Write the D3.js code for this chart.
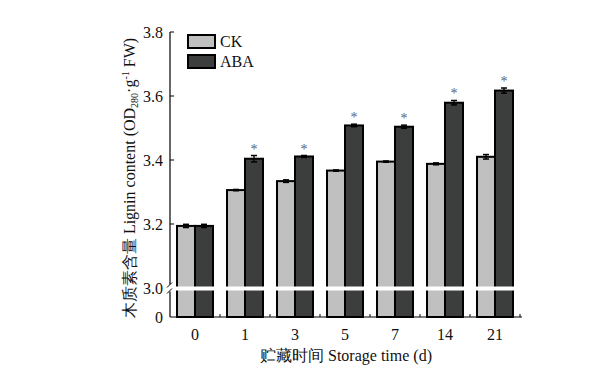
<!DOCTYPE html>
<html><head><meta charset="utf-8">
<script src="https://cdn.jsdelivr.net/npm/d3@7"></script>
<style>body{margin:0;background:#fff}svg{display:block}text{font-family:"Liberation Serif","Times New Roman",serif}</style>
</head><body>
<svg id="c" width="599" height="368"></svg>
<script>
const categories = ["0","1","3","5","7","14","21"];
const ckValues  = [3.194, 3.306, 3.334, 3.367, 3.395, 3.388, 3.410];
const ckErrors  = [0.005, 0.002, 0.004, 0.002, 0.002, 0.003, 0.007];
const abaValues = [3.194, 3.404, 3.411, 3.508, 3.504, 3.579, 3.617];
const abaErrors = [0.005, 0.010, 0.003, 0.004, 0.005, 0.007, 0.008];
const significant = [false, true, true, true, true, true, true];
const yTicks = [0, 3.0, 3.2, 3.4, 3.6, 3.8];
const yTickLabels = ["0", "3.0", "3.2", "3.4", "3.6", "3.8"];
const seriesNames = ["CK", "ABA"];
const colors = ["#c0c0c0", "#3c3e3d"];

const svg = d3.select("#c");
const x0 = 170, x1 = 520;
const x = d3.scaleBand().domain(categories).range([x0, x1]).paddingInner(0.28).paddingOuter(0.14);
const xs = d3.scaleBand().domain(seriesNames).range([0, x.bandwidth()]);
const y = d3.scaleLinear().domain([0, 3.0, 3.8]).range([317, 288, 32]);

const data = categories.map((c, i) => ({c, vals: [
  {s: "CK", v: ckValues[i], e: ckErrors[i]},
  {s: "ABA", v: abaValues[i], e: abaErrors[i]}]}));

const g = svg.append("g");
const groups = g.selectAll("g.grp").data(data).join("g").attr("transform", d => `translate(${x(d.c)},0)`);
groups.selectAll("rect").data(d => d.vals).join("rect")
  .attr("x", d => xs(d.s)).attr("width", xs.bandwidth())
  .attr("y", d => y(d.v)).attr("height", d => y(0) - y(d.v))
  .attr("fill", (d, i) => colors[i]).attr("stroke", "#000").attr("stroke-width", 2);

// error bars
const eb = groups.selectAll("g.eb").data(d => d.vals).join("g").attr("class", "eb")
  .attr("transform", d => `translate(${xs(d.s) + xs.bandwidth()/2},0)`);
eb.append("line").attr("y1", d => y(d.v + d.e)).attr("y2", d => y(d.v - d.e)).attr("stroke", "#000").attr("stroke-width", 1.3);
eb.append("line").attr("x1", -3).attr("x2", 3).attr("y1", d => y(d.v + d.e)).attr("y2", d => y(d.v + d.e)).attr("stroke", "#000").attr("stroke-width", 1.5);
eb.append("line").attr("x1", -3).attr("x2", 3).attr("y1", d => y(d.v - d.e)).attr("y2", d => y(d.v - d.e)).attr("stroke", "#000").attr("stroke-width", 1.5);

// asterisks
g.selectAll("text.star").data(data.filter((d, i) => significant[i])).join("text")
  .attr("x", d => x(d.c) + xs("ABA") + xs.bandwidth()/2)
  .attr("y", d => y(d.vals[1].v + d.vals[1].e) - 2)
  .attr("text-anchor", "middle").attr("font-size", 14).attr("fill", "#5c6375").text("*");

// break band
const yb = 288.5;
svg.append("rect").attr("x", x0 - 1).attr("y", yb - 2).attr("width", x1 - x0 + 3).attr("height", 4).attr("fill", "#fff");

// axes
const axisG = svg.append("g");
axisG.append("line").attr("x1", x0).attr("x2", x0).attr("y1", y(3.8)).attr("y2", yb - 4).attr("stroke", "#000").attr("stroke-width", 1.2);
axisG.append("line").attr("x1", x0).attr("x2", x0).attr("y1", yb + 3).attr("y2", y(0)).attr("stroke", "#000").attr("stroke-width", 1.2);
axisG.append("line").attr("x1", x0 - 3).attr("x2", x0 + 2).attr("y1", yb - 1).attr("y2", yb - 6).attr("stroke", "#000").attr("stroke-width", 1);
axisG.append("line").attr("x1", x0 - 3).attr("x2", x0 + 2).attr("y1", yb + 5).attr("y2", yb).attr("stroke", "#000").attr("stroke-width", 1);
axisG.append("line").attr("x1", x0).attr("x2", x1 + 2).attr("y1", y(0)).attr("y2", y(0)).attr("stroke", "#000").attr("stroke-width", 1.2);

yTicks.forEach((t, i) => {
  if (t !== 0 && t !== 3.0) axisG.append("line").attr("x1", x0).attr("x2", x0 + 4).attr("y1", y(t)).attr("y2", y(t)).attr("stroke", "#000");
  axisG.append("text").attr("x", x0 - 7).attr("y", y(t)).attr("dy", "0.35em").attr("text-anchor", "end").attr("font-size", 16).attr("fill", "#111").text(yTickLabels[i]);
});
// x ticks at band boundaries
categories.forEach((c, i) => {
  const bx = x0 + x.step() * (i + 1);
  axisG.append("line").attr("x1", bx).attr("x2", bx).attr("y1", y(0)).attr("y2", y(0) - 3).attr("stroke", "#000");
  axisG.append("text").attr("x", x(c) + x.bandwidth()/2).attr("y", 340).attr("text-anchor", "middle").attr("font-size", 16).attr("fill", "#111").text(c);
});

// axis titles
svg.append("text").attr("x", 346).attr("y", 361).attr("text-anchor", "middle").attr("font-size", 16).attr("fill", "#111")
  .text("贮藏时间 Storage time (d)");
const yt = svg.append("text").attr("transform", "translate(135,178) rotate(-90)").attr("text-anchor", "middle").attr("font-size", 16).attr("fill", "#111");
yt.append("tspan").text("木质素含量 Lignin content (OD");
yt.append("tspan").attr("font-size", 10).attr("dy", 3).text("280");
yt.append("tspan").attr("dy", -3).text("·g");
yt.append("tspan").attr("font-size", 10).attr("dy", -6).text("-1");
yt.append("tspan").attr("dy", 6).text(" FW)");

// legend
const lg = svg.append("g");
seriesNames.forEach((s, i) => {
  lg.append("rect").attr("x", 188).attr("y", 35 + i * 20).attr("width", 27).attr("height", 13).attr("fill", colors[i]).attr("stroke", "#000").attr("stroke-width", 2);
  lg.append("text").attr("x", 220).attr("y", 41.5 + i * 20).attr("dy", "0.35em").attr("font-size", 16).attr("fill", "#111").text(s);
});
</script>
</body></html>
